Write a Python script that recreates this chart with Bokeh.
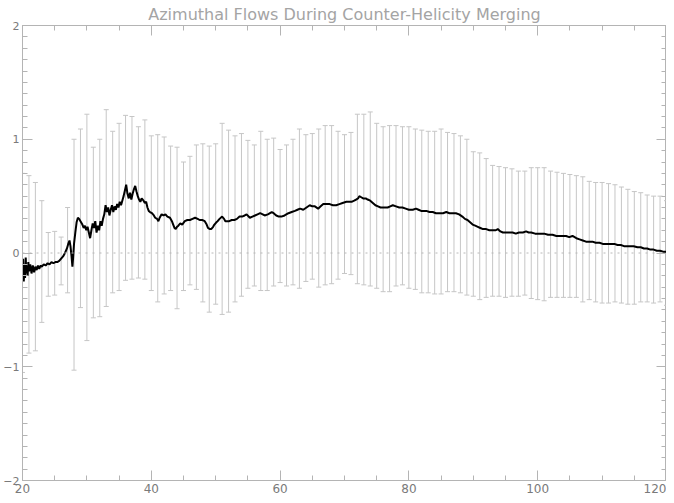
from bokeh.plotting import figure
from bokeh.models import (Range1d, SingleIntervalTicker, LinearAxis, Whisker,
                          ColumnDataSource, TeeHead, Span, CustomJSTickFormatter)
from bokeh.embed import file_html
from bokeh.resources import INLINE

TITLE = "Azimuthal Flows During Counter-Helicity Merging"

# error bars (x, upper, lower)
bar_x = list(range(20, 121))
bar_top = [0.70, 0.68, 0.62, 0.46, 0.18, 0.19, 0.14, 0.40, 1.00, 1.09,
           1.22, 0.93, 1.00, 1.26, 1.07, 1.14, 1.21, 1.20, 1.11, 1.17,
           1.03, 1.04, 1.02, 0.94, 0.93, 0.80, 0.85, 0.95, 0.96, 0.94,
           0.96, 1.14, 1.08, 1.03, 1.05, 0.99, 0.95, 1.07, 1.00, 1.01,
           0.91, 0.95, 1.00, 1.09, 1.04, 1.05, 1.09, 1.12, 1.12, 1.07,
           1.04, 1.06, 1.22, 1.22, 1.24, 1.14, 1.11, 1.12, 1.12, 1.11,
           1.11, 1.09, 1.08, 1.07, 1.07, 1.09, 1.06, 1.05, 1.03, 1.00,
           0.89, 0.88, 0.83, 0.77, 0.76, 0.75, 0.74, 0.72, 0.72, 0.75,
           0.75, 0.75, 0.72, 0.71, 0.70, 0.69, 0.68, 0.67, 0.63, 0.62,
           0.62, 0.61, 0.60, 0.58, 0.56, 0.54, 0.53, 0.51, 0.50, 0.50,
           0.46]
bar_bottom = [-1.05, -0.88, -0.86, -0.61, -0.38, -0.37, -0.28, -0.35, -1.03, -0.48,
              -0.77, -0.57, -0.56, -0.47, -0.35, -0.33, -0.24, -0.23, -0.22, -0.23,
              -0.33, -0.43, -0.36, -0.33, -0.49, -0.33, -0.28, -0.32, -0.43, -0.52,
              -0.45, -0.54, -0.52, -0.43, -0.38, -0.31, -0.29, -0.33, -0.33, -0.29,
              -0.26, -0.29, -0.28, -0.31, -0.25, -0.23, -0.30, -0.28, -0.27, -0.23,
              -0.18, -0.19, -0.27, -0.28, -0.29, -0.31, -0.34, -0.34, -0.29, -0.28,
              -0.31, -0.32, -0.35, -0.35, -0.36, -0.36, -0.34, -0.34, -0.35, -0.37,
              -0.38, -0.41, -0.39, -0.38, -0.38, -0.39, -0.38, -0.38, -0.37, -0.40,
              -0.41, -0.42, -0.39, -0.39, -0.39, -0.39, -0.39, -0.43, -0.41, -0.43,
              -0.44, -0.44, -0.43, -0.44, -0.45, -0.45, -0.43, -0.43, -0.44, -0.43,
              -0.46]

# mean azimuthal flow curve
line_x = [20.0, 20.1, 20.2, 20.3, 20.4, 20.5, 20.6, 20.7, 20.8, 20.9,
          21.0, 21.2, 21.4, 21.6, 21.8, 22.0, 22.2, 22.4, 22.6, 22.8,
          23.0, 23.3, 23.6, 23.9, 24.2, 24.5, 24.8, 25.1, 25.4, 25.7,
          26.0, 26.3, 26.6, 26.9, 27.1, 27.3, 27.45, 27.6, 27.75, 27.85,
          28.0, 28.2, 28.4, 28.6, 28.8, 29.0, 29.3, 29.5, 29.7, 29.9,
          30.1, 30.3, 30.5, 30.7, 30.9, 31.1, 31.3, 31.5, 31.7, 31.9,
          32.1, 32.3, 32.5, 32.7, 32.9, 33.1, 33.3, 33.5, 33.7, 33.9,
          34.1, 34.3, 34.5, 34.7, 34.9, 35.1, 35.3, 35.5, 35.7, 35.9,
          36.1, 36.3, 36.5, 36.7, 36.9, 37.1, 37.3, 37.5, 37.7, 37.9,
          38.1, 38.3, 38.5, 38.8, 39.0, 39.2, 39.4, 39.6, 39.8, 40.1,
          40.4, 40.6, 40.9, 41.1, 41.3, 41.6, 41.9, 42.2, 42.5, 42.9,
          43.2, 43.4, 43.6, 43.8, 44.0, 44.2, 44.5, 44.8, 45.2, 45.6,
          46.0, 46.4, 46.8, 47.2, 47.5, 47.9, 48.3, 48.6, 48.8, 49.1,
          49.3, 49.6, 49.8, 50.1, 50.3, 50.6, 51.0, 51.3, 51.5, 51.8,
          52.1, 52.5, 52.9, 53.3, 53.7, 54.1, 54.5, 54.8, 55.3, 55.7,
          56.1, 56.5, 56.9, 57.3, 57.6, 58.1, 58.7, 59.0, 59.4, 59.8,
          60.2, 60.7, 61.3, 61.8, 62.3, 62.7, 63.1, 63.6, 64.1, 64.6,
          65.0, 65.4, 65.9, 66.3, 66.7, 67.2, 67.7, 68.2, 68.7, 69.2,
          69.7, 70.3, 70.8, 71.1, 71.5, 71.8, 72.1, 72.3, 72.6, 72.9,
          73.3, 73.6, 74.0, 74.4, 74.8, 75.2, 75.6, 75.9, 76.3, 76.7,
          77.1, 77.5, 78.0, 78.5, 79.0, 79.5, 80.0, 80.6, 81.1, 81.5,
          81.9, 82.3, 82.7, 83.2, 83.7, 84.2, 84.7, 85.3, 85.8, 86.3,
          86.8, 87.3, 87.8, 88.3, 88.7, 89.1, 89.5, 89.9, 90.3, 90.7,
          91.1, 91.5, 92.0, 92.5, 93.0, 93.5, 93.8, 94.2, 94.6, 95.1,
          95.6, 96.1, 96.6, 97.1, 97.7, 98.2, 98.6, 99.0, 99.6, 100.3,
          101.0, 101.6, 102.3, 102.9, 103.4, 103.9, 104.4, 104.9, 105.4, 106.0,
          106.5, 107.0, 107.5, 108.0, 108.5, 109.0, 109.6, 110.1, 110.6, 111.2,
          111.9, 112.4, 112.9, 113.4, 113.9, 114.4, 114.9, 115.5, 116.0, 116.5,
          117.0, 117.5, 118.0, 118.5, 119.0, 119.6, 120.0]
line_y = [-0.20, -0.05, -0.25, -0.10, -0.22, -0.04, -0.18, -0.12, -0.20, -0.08,
          -0.16, -0.10, -0.18, -0.11, -0.17, -0.12, -0.15, -0.11, -0.14, -0.11,
          -0.12, -0.10, -0.11, -0.09, -0.10, -0.08, -0.09, -0.08, -0.08, -0.07,
          -0.05, -0.03, 0.00, 0.04, 0.08, 0.11, 0.06, -0.02, -0.12, -0.05,
          0.08, 0.18, 0.27, 0.31, 0.30, 0.28, 0.25, 0.22, 0.24, 0.20,
          0.23, 0.18, 0.13, 0.20, 0.26, 0.22, 0.28, 0.18, 0.24, 0.20,
          0.28, 0.24, 0.30, 0.34, 0.42, 0.36, 0.40, 0.33, 0.38, 0.42,
          0.36, 0.41, 0.38, 0.43, 0.40, 0.45, 0.42, 0.46, 0.50, 0.55,
          0.60, 0.52, 0.48, 0.53, 0.47, 0.52, 0.56, 0.59, 0.54, 0.50,
          0.47, 0.45, 0.48, 0.46, 0.44, 0.45, 0.40, 0.37, 0.36, 0.35,
          0.33, 0.31, 0.30, 0.28, 0.31, 0.34, 0.33, 0.34, 0.32, 0.31,
          0.28, 0.25, 0.22, 0.21, 0.23, 0.24, 0.26, 0.25, 0.28, 0.29,
          0.29, 0.30, 0.31, 0.30, 0.29, 0.29, 0.28, 0.25, 0.22, 0.21,
          0.21, 0.23, 0.25, 0.27, 0.28, 0.30, 0.32, 0.30, 0.28, 0.28,
          0.28, 0.29, 0.29, 0.30, 0.32, 0.32, 0.33, 0.34, 0.31, 0.32,
          0.33, 0.34, 0.35, 0.34, 0.33, 0.34, 0.36, 0.35, 0.33, 0.32,
          0.32, 0.33, 0.35, 0.36, 0.37, 0.38, 0.39, 0.38, 0.40, 0.42,
          0.41, 0.41, 0.39, 0.41, 0.43, 0.43, 0.43, 0.42, 0.42, 0.43,
          0.44, 0.45, 0.45, 0.45, 0.46, 0.47, 0.48, 0.50, 0.49, 0.48,
          0.48, 0.47, 0.46, 0.44, 0.42, 0.41, 0.40, 0.40, 0.40, 0.40,
          0.41, 0.42, 0.41, 0.40, 0.40, 0.39, 0.38, 0.38, 0.39, 0.38,
          0.37, 0.37, 0.37, 0.36, 0.36, 0.35, 0.35, 0.35, 0.36, 0.35,
          0.35, 0.35, 0.34, 0.32, 0.30, 0.29, 0.27, 0.25, 0.24, 0.23,
          0.22, 0.21, 0.21, 0.20, 0.20, 0.20, 0.21, 0.19, 0.18, 0.18,
          0.18, 0.18, 0.17, 0.18, 0.18, 0.19, 0.18, 0.18, 0.17, 0.17,
          0.17, 0.16, 0.16, 0.15, 0.15, 0.15, 0.15, 0.14, 0.15, 0.13,
          0.12, 0.11, 0.10, 0.10, 0.10, 0.09, 0.09, 0.08, 0.08, 0.08,
          0.08, 0.07, 0.07, 0.06, 0.06, 0.06, 0.06, 0.05, 0.05, 0.04,
          0.04, 0.03, 0.03, 0.02, 0.02, 0.01, 0.01]

AXIS_GRAY = "#b4b4b4"
LABEL_GRAY = "#7a7a7a"
BAR_GRAY = "#c6c6c6"

p = figure(width=666, height=495, output_backend="svg", toolbar_location=None,
           x_range=Range1d(20, 120), y_range=Range1d(-2, 2), title=TITLE,
           min_border_left=0, min_border_right=0, min_border_top=0,
           min_border_bottom=0, background_fill_color="white")
p.outline_line_color = AXIS_GRAY
p.xgrid.visible = False
p.ygrid.visible = False

p.title.align = "center"
p.title.text_font = "DejaVu Sans"
p.title.text_font_size = "16px"
p.title.text_font_style = "normal"
p.title.text_color = "#a4a4a4"
p.title.standoff = 4


def style_axis(ax, show_labels, font_size):
    ax.axis_line_color = AXIS_GRAY
    ax.major_tick_line_color = AXIS_GRAY
    ax.minor_tick_line_color = AXIS_GRAY
    ax.major_tick_in = 10
    ax.major_tick_out = 0
    ax.minor_tick_in = 5
    ax.minor_tick_out = 0
    ax.axis_label_standoff = 0
    if show_labels:
        ax.major_label_text_font = "DejaVu Sans"
        ax.major_label_text_font_size = font_size
        ax.major_label_text_color = LABEL_GRAY
        ax.major_label_standoff = 3
    else:
        ax.formatter = CustomJSTickFormatter(code="return ''")
        ax.major_label_text_font_size = "0px"
        ax.major_label_standoff = 0


xt = SingleIntervalTicker(interval=20, num_minor_ticks=4)
yt = SingleIntervalTicker(interval=1, num_minor_ticks=10)

p.xaxis[0].ticker = xt
p.yaxis[0].ticker = yt
style_axis(p.xaxis[0], True, "12px")
style_axis(p.yaxis[0], True, "11px")
p.xaxis[0].major_label_standoff = 3

top_ax = LinearAxis(ticker=SingleIntervalTicker(interval=20, num_minor_ticks=4))
right_ax = LinearAxis(ticker=SingleIntervalTicker(interval=1, num_minor_ticks=10))
style_axis(top_ax, False, None)
style_axis(right_ax, False, None)
p.add_layout(top_ax, "above")
p.add_layout(right_ax, "right")

p.add_layout(Span(location=0, dimension="width", line_color="#b8b8b8",
                  line_dash="2 5", line_width=1))

src = ColumnDataSource(dict(x=bar_x, top=bar_top, bottom=bar_bottom))
w = Whisker(source=src, base="x", upper="top", lower="bottom",
            line_color=BAR_GRAY, line_width=1,
            upper_head=TeeHead(size=5, line_color=BAR_GRAY, line_width=1),
            lower_head=TeeHead(size=5, line_color=BAR_GRAY, line_width=1))
p.add_layout(w)

p.line(line_x, line_y, line_color="black", line_width=2)

open("out.html", "w").write(file_html(p, INLINE))
